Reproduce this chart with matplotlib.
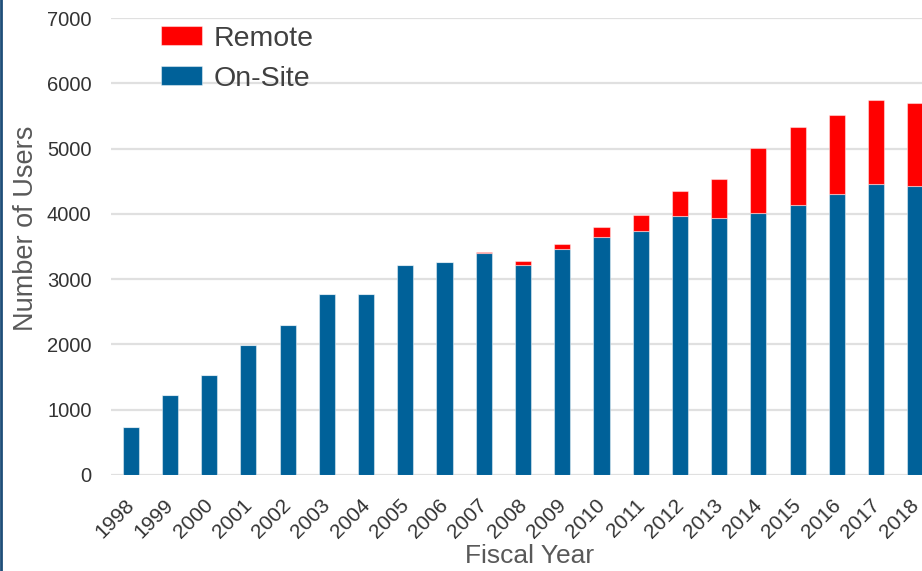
import matplotlib
matplotlib.use('Agg')
import matplotlib.pyplot as plt
from matplotlib.lines import Line2D
from matplotlib.transforms import ScaledTranslation

plt.rcParams['font.family'] = ['Liberation Sans', 'DejaVu Sans']

years = [str(y) for y in range(1998, 2019)]
on_site = [730, 1220, 1530, 1990, 2300, 2770, 2770, 3210, 3270, 3400, 3220,
           3460, 3640, 3730, 3970, 3940, 4010, 4130, 4300, 4450, 4420]
remote = [0, 0, 0, 0, 0, 0, 0, 0, 0, 15, 55,
          80, 155, 255, 385, 595, 1000, 1195, 1215, 1290, 1280]

blue = '#006199'
red = '#ff0000'

fig = plt.figure(figsize=(9.22, 5.71), dpi=100)
ax = fig.add_axes([111 / 922, 96 / 571, 824 / 922, 457 / 571])

x = list(range(len(years)))
ax.bar(x, on_site, width=0.41, color=blue, edgecolor=(1, 1, 1, 0.45),
       linewidth=0.8, label='On-Site', zorder=3)
ax.bar(x, remote, bottom=on_site, width=0.41, color=red,
       edgecolor=(1, 1, 1, 0.45), linewidth=0.8, label='Remote', zorder=3)

ax.set_xlim(-0.5, len(years) - 0.5)
ax.set_ylim(0, 7000)
ax.set_yticks(range(0, 7001, 1000))
ax.grid(axis='y', color='#e0e0e0', linewidth=1.6, zorder=0)
for s in ax.spines.values():
    s.set_visible(False)
ax.tick_params(length=0, labelsize=14.5, labelcolor='#333333')
ax.tick_params(axis='y', pad=14)
ax.set_xticks(x)
ax.set_xticklabels(years, rotation=45, ha='right', rotation_mode='anchor')
ax.tick_params(axis='x', pad=15, labelsize=15)
shift = ScaledTranslation(-0.06, 0, fig.dpi_scale_trans)
for lab in ax.get_xticklabels():
    lab.set_transform(lab.get_transform() + shift)

fig.text(530 / 922, 1 - 556 / 571, 'Fiscal Year', ha='center', va='center',
         fontsize=19, color='#595959')
fig.text(26 / 922, 1 - 228 / 571, 'Number of Users', ha='center', va='center',
         rotation=90, fontsize=19.5, color='#595959')

handles, labels = ax.get_legend_handles_labels()
fig.legend(handles[::-1], labels[::-1], loc='upper left',
           bbox_to_anchor=(155 / 922, 1 - 20 / 571), frameon=False,
           fontsize=20.5, labelcolor='#404040', handlelength=1.45,
           handleheight=0.65, handletextpad=0.42, labelspacing=0.5,
           borderaxespad=0, borderpad=0.2)

fig.add_artist(Line2D([0.001, 0.001], [0, 1], transform=fig.transFigure,
                      color='#1f4e79', linewidth=2))

fig.savefig('out.png', dpi=100)
